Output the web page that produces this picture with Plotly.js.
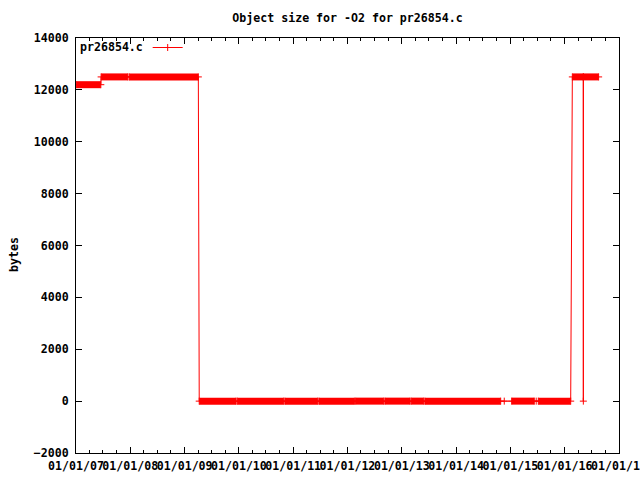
<!DOCTYPE html>
<html>
<head>
<meta charset="utf-8">
<script src="https://cdn.plot.ly/plotly-3.0.1.min.js"></script>
<style>html,body{margin:0;padding:0;background:#fff;}#chart{width:640px;height:480px;}</style>
</head>
<body>
<div id="chart"></div>
<script>
// Observed sample points (date, object size in bytes), in order
const sampleDates = ['2007-01-03','2007-06-17','2007-06-19','2007-12-16','2007-12-25','2009-04-03','2009-04-09','2009-12-13','2009-12-21','2010-10-29','2010-11-06','2011-06-15','2011-06-23','2012-02-17','2012-02-25','2012-09-01','2012-09-09','2013-02-26','2013-03-06','2013-05-28','2013-06-05','2014-10-28','2014-11-21','2015-01-10','2015-06-11','2015-06-24','2015-07-08','2016-02-11','2016-02-22','2016-05-05','2016-05-06','2016-05-07','2016-08-17'];
const sampleSizes = [12200,12200,12500,12500,12500,12500,0,0,0,0,0,0,0,0,0,0,0,0,0,0,0,0,0,0,0,0,0,0,12500,12500,0,12500,12500];

// Periods with densely packed samples (drawn as solid runs)
const denseStart = ['2007-01-03','2007-06-19','2007-12-25','2009-04-09','2009-12-21','2010-11-06','2011-06-23','2012-02-25','2012-09-09','2013-03-06','2013-06-05','2015-01-10','2015-07-08','2016-02-22'];
const denseEnd   = ['2007-06-17','2007-12-16','2009-04-03','2009-12-13','2010-10-29','2011-06-15','2012-02-17','2012-09-01','2013-02-26','2013-05-28','2014-10-28','2015-06-11','2016-02-11','2016-08-17'];
const denseSize  = [12200,12500,12500,0,0,0,0,0,0,0,0,0,0,12500];

const seriesName = 'pr26854.c';
const chartTitle = 'Object size for -O2 for pr26854.c';
const yTitle = 'bytes';
const xRange = ['2007-01-01','2017-01-01'];
const yRange = [-2000, 14000];

const bandX = [], bandY = [];
denseStart.forEach((s, i) => {
  bandX.push(s, denseEnd[i], null);
  bandY.push(denseSize[i], denseSize[i], null);
});

const RED = '#ff0000';
const FONT = {family: 'DejaVu Sans Mono', size: 11.6, color: '#000', weight: 'bold'};

const traces = [
  {
    x: bandX, y: bandY, type: 'scatter', mode: 'lines',
    line: {color: RED, width: 7}, connectgaps: false,
    showlegend: false, hoverinfo: 'skip'
  },
  {
    x: sampleDates, y: sampleSizes, type: 'scatter', mode: 'lines+markers',
    name: '',
    line: {color: RED, width: 1},
    marker: {symbol: 'cross-thin', size: 5, color: RED, line: {color: RED, width: 1}}
  }
];

const layout = {
  width: 640, height: 480,
  paper_bgcolor: '#fff', plot_bgcolor: '#fff',
  margin: {l: 76, r: 21, t: 38, b: 27, pad: 0},
  font: FONT,
  title: {text: chartTitle, font: FONT, x: 0.5, xref: 'paper', xanchor: 'center', y: 1 - 18/480, yref: 'container', yanchor: 'middle'},
  showlegend: true,
  legend: {x: 0.132, xanchor: 'left', y: 1 + 5/415, yanchor: 'top', bgcolor: 'rgba(0,0,0,0)', borderwidth: 0, font: FONT},
  xaxis: {
    type: 'date', range: xRange, autorange: false,
    tick0: '2007-01-01', dtick: 'M12', tickformat: '%m/%d/%y', tickangle: 0,
    ticks: 'inside', ticklen: 6, tickwidth: 1, tickcolor: '#000',
    minor: {dtick: 'M3', ticks: 'inside', ticklen: 3, tickcolor: '#000', showgrid: false},
    showline: true, linecolor: '#000', linewidth: 1, mirror: 'allticks',
    showgrid: false, zeroline: false, tickfont: FONT, ticklabeloverflow: 'allow',
    ticklabelstandoff: 2
  },
  yaxis: {
    range: yRange, autorange: false, tick0: 0, dtick: 2000, tickformat: 'd',
    ticks: 'inside', ticklen: 6, tickwidth: 1, tickcolor: '#000',
    showline: true, linecolor: '#000', linewidth: 1, mirror: 'allticks',
    showgrid: false, zeroline: false, tickfont: FONT, ticklabelstandoff: 4
  },
  annotations: [
    {text: seriesName, xref: 'paper', yref: 'paper', x: (145 - 76) / 543, y: (453 - 47) / 415,
     xanchor: 'right', yanchor: 'middle', showarrow: false, font: FONT},
    {text: yTitle, xref: 'paper', yref: 'paper', x: (14 - 76) / 543, y: (453 - 255) / 415,
     xanchor: 'center', yanchor: 'middle', textangle: -90, showarrow: false, font: FONT}
  ]
};

Plotly.newPlot('chart', traces, layout, {displayModeBar: false, staticPlot: true});
</script>
</body>
</html>
